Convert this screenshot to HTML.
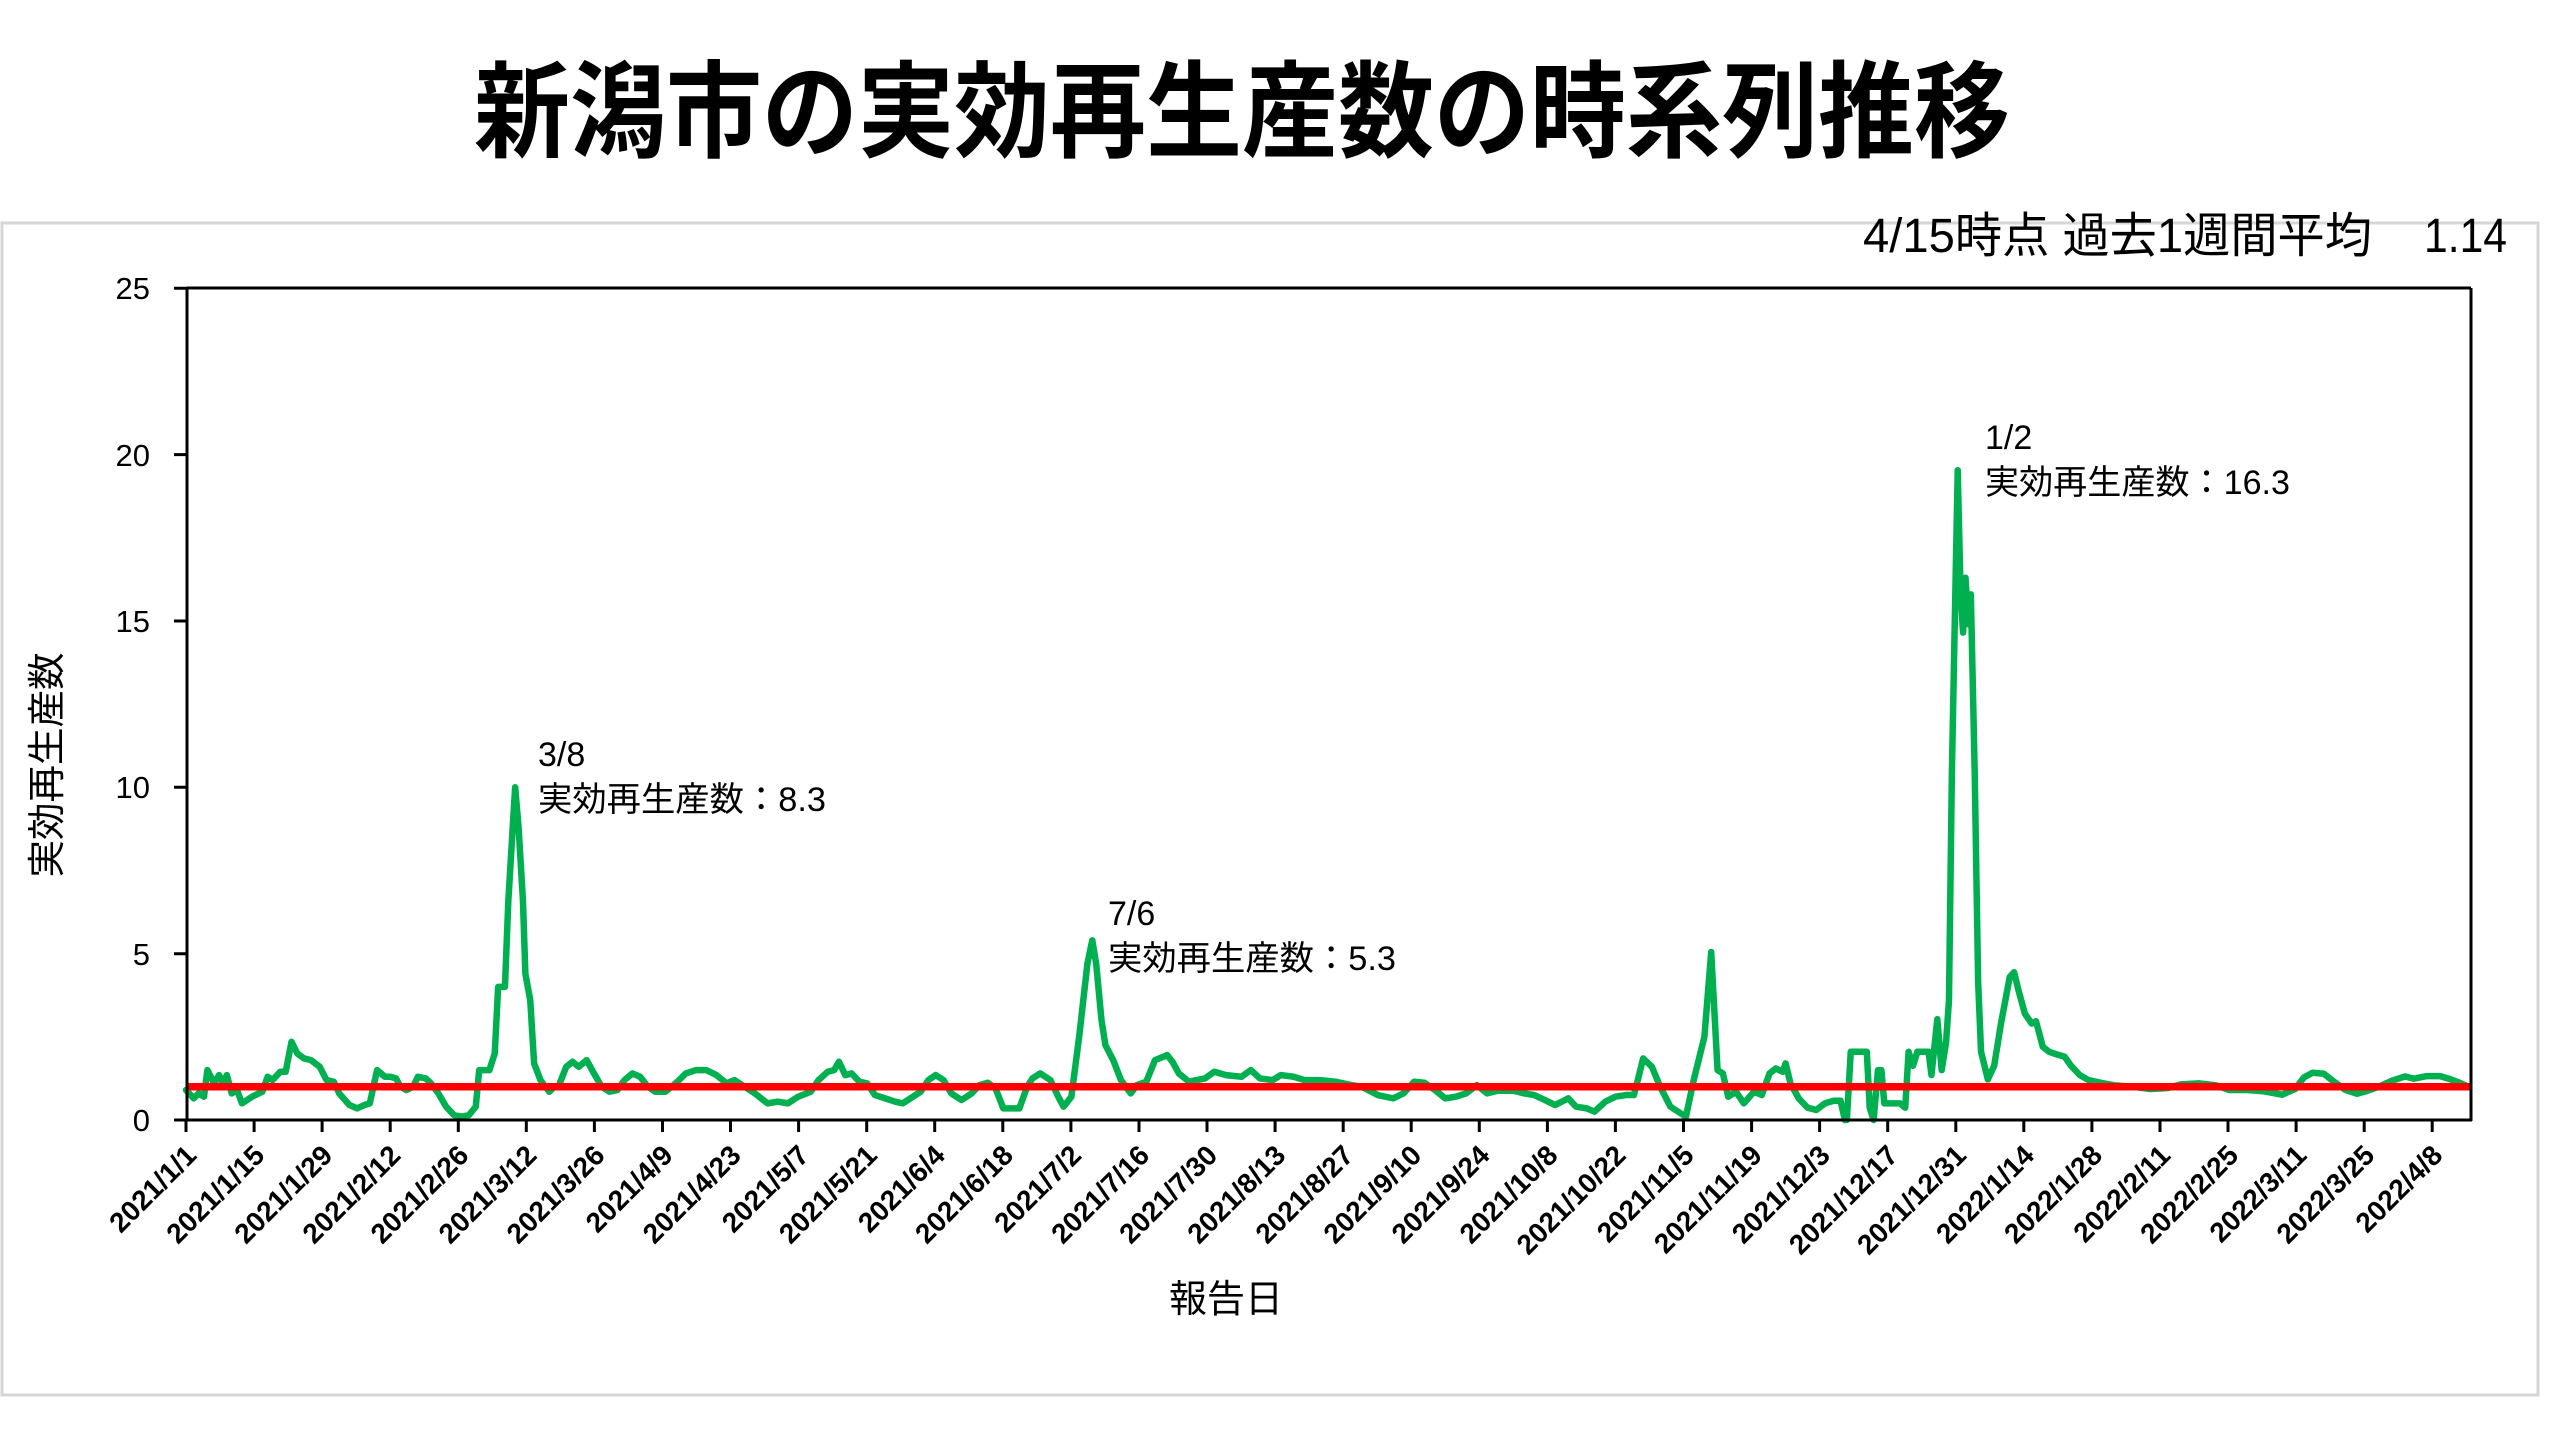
<!DOCTYPE html>
<html><head><meta charset="utf-8"><style>
html,body{margin:0;padding:0;background:#fff;}
svg{display:block;}
text{font-family:"Liberation Sans","Noto Sans CJK JP",sans-serif;fill:#000;}
</style></head><body>
<svg width="2560" height="1440" viewBox="0 0 2560 1440" xmlns="http://www.w3.org/2000/svg">
<rect x="0" y="0" width="2560" height="1440" fill="#fff"/>
<!-- frame -->
<rect x="2" y="223" width="2536" height="1172" fill="none" stroke="#d6d6d6" stroke-width="3"/>
<!-- title -->
<text x="474" y="149" font-size="105" font-weight="bold" textLength="1536" lengthAdjust="spacingAndGlyphs">新潟市の実効再生産数の時系列推移</text>
<!-- subtitle -->
<text x="1863" y="252" font-size="48" textLength="509" lengthAdjust="spacingAndGlyphs">4/15時点 過去1週間平均</text>
<text x="2424" y="252" font-size="48" textLength="83" lengthAdjust="spacingAndGlyphs">1.14</text>

<!-- y axis label -->
<text transform="translate(60,765) rotate(-90)" font-size="38" text-anchor="middle" textLength="225" lengthAdjust="spacingAndGlyphs">実効再生産数</text>

<!-- y tick labels -->
<g font-size="31" text-anchor="end">
<text x="150" y="1131">0</text>
<text x="150" y="965">5</text>
<text x="150" y="798">10</text>
<text x="150" y="632">15</text>
<text x="150" y="466">20</text>
<text x="150" y="299">25</text>
</g>

<!-- green series -->
<g transform="translate(186,1120) scale(4.862,-33.27)">
<polyline fill="none" stroke="#00b050" stroke-width="6.5" stroke-linejoin="round" stroke-linecap="round" vector-effect="non-scaling-stroke" points="
0,0.9 1.6,0.65 2.6,0.8 3.7,0.7 4.4,1.5 5.8,1.1 6.8,1.35 7.6,1.1 8.4,1.35 9.4,0.8 10.5,0.9 11.5,0.5 13.6,0.7 15.7,0.85 16.8,1.3 17.8,1.2 19.4,1.45 20.5,1.45 21.7,2.35 22.9,2.0 24.3,1.85 25.7,1.8 27.5,1.6 28.9,1.2 30.4,1.15 31.5,0.8 33.6,0.45 35.2,0.35 36.7,0.45 37.8,0.5 39.3,1.5 40.9,1.3 42,1.3 43.2,1.25 44.1,1.0 45.3,0.9 46.7,1.0 47.7,1.3 49.3,1.25 50.4,1.1 51.9,0.8 53.5,0.4 55.1,0.15 56.7,0.1 58.2,0.15 59.6,0.4 60.3,1.5 62.4,1.5 63.5,2.0 64.2,4.0 65.6,4.0 66.3,6.6 67.2,8.8 67.7,10.0 68.4,8.8 69.3,6.6 69.8,4.4 70.8,3.6 71.6,1.7 72.9,1.2 74.7,0.85 75.8,1.0 76.6,1.0 78.2,1.6 79.5,1.75 80.8,1.6 82.4,1.8 83.9,1.4 85.5,1.0 87.1,0.85 88.7,0.9 90.2,1.2 91.8,1.4 93.4,1.3 95,1.0 96.5,0.85 98.6,0.85 100.7,1.1 102.8,1.4 104.9,1.5 107,1.5 109.1,1.35 111.2,1.1 112.8,1.2 114.9,1.0 117,0.8 119.6,0.5 121.7,0.55 123.8,0.5 125.9,0.7 128.5,0.85 130.1,1.2 132,1.45 133.3,1.5 134.3,1.75 135.6,1.35 136.9,1.4 138.5,1.15 140.1,1.1 141.7,0.75 143.8,0.65 145.9,0.55 147.4,0.5 149,0.65 151.1,0.85 152.7,1.2 154.2,1.35 155.8,1.2 157.4,0.8 159.5,0.6 161.6,0.8 163.2,1.05
164.9,1.12 166.5,0.95 168.1,0.35 171.4,0.35 173,1.0 174.1,1.25 175.7,1.4 177.8,1.2 179.4,0.7 180.5,0.4 182.1,0.7 183.7,2.5 185.4,4.7 186.4,5.4 187.2,4.7 188.3,3.0 189.1,2.25 190.7,1.8 192.3,1.2 194.3,0.8 195.6,1.05 197.5,1.15 199.3,1.8 201,1.9 201.8,1.95 202.9,1.75 204.2,1.4 206.3,1.15 207.9,1.2 209.6,1.25 211.5,1.45 213.9,1.35 217.1,1.3 219,1.5 220.9,1.25 223.5,1.2 225.2,1.35 227.8,1.3 230,1.2 233.2,1.2 236.4,1.15 239.7,1.05 241.8,1.0 245.1,0.75 248.3,0.65 250.4,0.8 252.6,1.15 254.7,1.12 256.9,0.9 259,0.65 261.2,0.7 263.3,0.8 265.5,1.05 267.6,0.8 269.8,0.88 273,0.88 275.2,0.8 277.3,0.75 279.5,0.6 281.6,0.45 284.3,0.65 285.9,0.4 288.1,0.35 289.7,0.25 291.9,0.55 294,0.7 296.2,0.75 297.8,0.75 298.6,1.2 299.7,1.85 301.5,1.6 303.2,1.0 305.3,0.4 306.9,0.25 308.5,0.1 310.1,1.2 312.3,2.5 313.7,5.05 315,1.5 316.1,1.4 317.2,0.7 318.8,0.85 320.4,0.5 322.5,0.85 324.1,0.75 325.7,1.4 327,1.55 328.4,1.45 329,1.7 330,1.1
331.7,0.65 333.5,0.37 335.3,0.3 337.1,0.5 338.9,0.58 340.3,0.58 341.2,0 341.6,0 342.4,2.05 345.7,2.05 346.3,0.37 347.1,0 348,1.5 348.7,1.5 349.3,0.5 352.5,0.5 353.6,0.37 354.3,2.05 355.2,1.63 356.1,2.05 358.4,2.05 359,1.35 360.2,3.03 361.1,1.5 362,2.33 362.6,3.59 363.2,10.44 363.9,15.76 364.4,19.53 365,15.8 365.5,14.65 366.0,16.3 366.6,14.9 367.1,15.8 367.9,10.4 368.6,4.15 369.2,2.05 370.6,1.22 371.9,1.63 373.3,2.9 375.1,4.3 376,4.44 376.9,3.9 378.2,3.2 379.6,2.9 380.5,2.97 381.9,2.2 383.2,2.05 384.6,1.98 386.4,1.9 387.7,1.63 389.5,1.35 391.3,1.2 394.1,1.11 396.8,1.04 400.4,1.0 404,0.93 407.6,0.96 410.3,1.07 414,1.1 417.6,1.04 420.3,0.9 423.9,0.9 427.5,0.86 431.1,0.76 433.8,0.93 435.6,1.28 437.4,1.42 439.7,1.39 441.9,1.14 444.2,0.9 446.5,0.79 448.3,0.86 451,1.0 453.7,1.18 456.4,1.31 458.2,1.24 460.9,1.32 463.6,1.32 465.4,1.24 467.3,1.14 469.5,1.0"/>
</g>

<!-- red reference line -->
<line x1="187" y1="1086.7" x2="2471" y2="1086.7" stroke="#ff0000" stroke-width="7.5"/>

<!-- plot frame / axes -->
<g stroke="#000" stroke-width="3" fill="none">
<line x1="187" y1="288" x2="2471" y2="288"/>
<line x1="2471" y1="288" x2="2471" y2="1121"/>
<line x1="187" y1="288" x2="187" y2="1121"/>
<line x1="186" y1="1120" x2="2472" y2="1120"/>
<!-- y ticks -->
<path d="M174 1120H187M174 953.7H187M174 787.3H187M174 621H187M174 454.6H187M174 288.3H187"/>
<!-- x ticks -->
<path d="M186 1120V1132M254.1 1120V1132M322.1 1120V1132M390.2 1120V1132M458.3 1120V1132M526.3 1120V1132M594.4 1120V1132M662.5 1120V1132M730.5 1120V1132M798.6 1120V1132M866.7 1120V1132M934.7 1120V1132M1002.8 1120V1132M1070.9 1120V1132M1139 1120V1132M1207 1120V1132M1275.1 1120V1132M1343.2 1120V1132M1411.2 1120V1132M1479.3 1120V1132M1547.4 1120V1132M1615.4 1120V1132M1683.5 1120V1132M1751.6 1120V1132M1819.6 1120V1132M1887.7 1120V1132M1955.8 1120V1132M2023.8 1120V1132M2091.9 1120V1132M2160 1120V1132M2228 1120V1132M2296.1 1120V1132M2364.2 1120V1132M2432.2 1120V1132"/>
</g>

<!-- x tick labels -->
<g font-size="28" font-weight="bold" text-anchor="end">
<text transform="translate(198,1157) rotate(-45)">2021/1/1</text>
<text transform="translate(266.1,1157) rotate(-45)">2021/1/15</text>
<text transform="translate(334.1,1157) rotate(-45)">2021/1/29</text>
<text transform="translate(402.2,1157) rotate(-45)">2021/2/12</text>
<text transform="translate(470.3,1157) rotate(-45)">2021/2/26</text>
<text transform="translate(538.3,1157) rotate(-45)">2021/3/12</text>
<text transform="translate(606.4,1157) rotate(-45)">2021/3/26</text>
<text transform="translate(674.5,1157) rotate(-45)">2021/4/9</text>
<text transform="translate(742.5,1157) rotate(-45)">2021/4/23</text>
<text transform="translate(810.6,1157) rotate(-45)">2021/5/7</text>
<text transform="translate(878.7,1157) rotate(-45)">2021/5/21</text>
<text transform="translate(946.7,1157) rotate(-45)">2021/6/4</text>
<text transform="translate(1014.8,1157) rotate(-45)">2021/6/18</text>
<text transform="translate(1082.9,1157) rotate(-45)">2021/7/2</text>
<text transform="translate(1151,1157) rotate(-45)">2021/7/16</text>
<text transform="translate(1219,1157) rotate(-45)">2021/7/30</text>
<text transform="translate(1287.1,1157) rotate(-45)">2021/8/13</text>
<text transform="translate(1355.2,1157) rotate(-45)">2021/8/27</text>
<text transform="translate(1423.2,1157) rotate(-45)">2021/9/10</text>
<text transform="translate(1491.3,1157) rotate(-45)">2021/9/24</text>
<text transform="translate(1559.4,1157) rotate(-45)">2021/10/8</text>
<text transform="translate(1627.4,1157) rotate(-45)">2021/10/22</text>
<text transform="translate(1695.5,1157) rotate(-45)">2021/11/5</text>
<text transform="translate(1763.6,1157) rotate(-45)">2021/11/19</text>
<text transform="translate(1831.6,1157) rotate(-45)">2021/12/3</text>
<text transform="translate(1899.7,1157) rotate(-45)">2021/12/17</text>
<text transform="translate(1967.8,1157) rotate(-45)">2021/12/31</text>
<text transform="translate(2035.8,1157) rotate(-45)">2022/1/14</text>
<text transform="translate(2103.9,1157) rotate(-45)">2022/1/28</text>
<text transform="translate(2172,1157) rotate(-45)">2022/2/11</text>
<text transform="translate(2240,1157) rotate(-45)">2022/2/25</text>
<text transform="translate(2308.1,1157) rotate(-45)">2022/3/11</text>
<text transform="translate(2376.2,1157) rotate(-45)">2022/3/25</text>
<text transform="translate(2444.2,1157) rotate(-45)">2022/4/8</text>
</g>

<!-- x axis title -->
<text x="1226" y="1312" font-size="38" text-anchor="middle">報告日</text>

<!-- annotations -->
<g font-size="34">
<text x="538" y="766">3/8</text>
<text x="538" y="811" textLength="288" lengthAdjust="spacingAndGlyphs">実効再生産数：8.3</text>
<text x="1108" y="925">7/6</text>
<text x="1108" y="970" textLength="288" lengthAdjust="spacingAndGlyphs">実効再生産数：5.3</text>
<text x="1985" y="449">1/2</text>
<text x="1985" y="494" textLength="305" lengthAdjust="spacingAndGlyphs">実効再生産数：16.3</text>
</g>
</svg>
</body></html>
